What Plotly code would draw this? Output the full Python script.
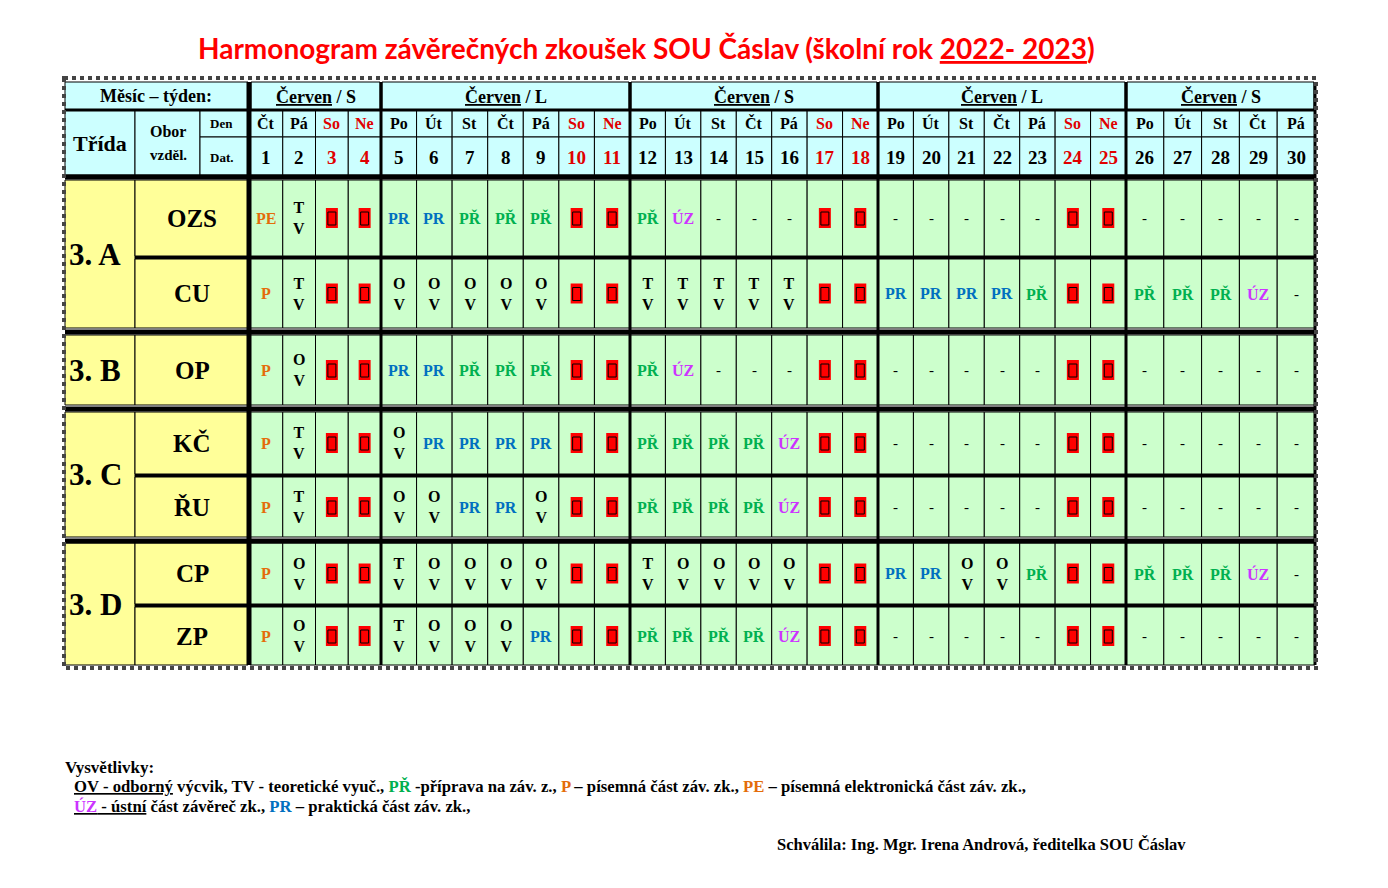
import plotly.graph_objects as go

# --- data ---
title = "Harmonogram závěrečných zkoušek SOU Čáslav (školní rok <u>2022- 2023</u>)"
weeks = ["S", "L", "S", "L", "S"]
week_days = [4, 7, 7, 7, 5]
day_names = ["Čt", "Pá", "So", "Ne"] + ["Po", "Út", "St", "Čt", "Pá", "So", "Ne"] * 3 + ["Po", "Út", "St", "Čt", "Pá"]
dates = list(range(1, 31))
classes = ["3. A", "3. B", "3. C", "3. D"]
class_rows = [["OZS", "CU"], ["OP"], ["KČ", "ŘU"], ["CP", "ZP"]]
W = "W"  # weekend marker
D = "-"
schedule = {
    "OZS": ["PE", "TV", W, W, "PR", "PR", "PŘ", "PŘ", "PŘ", W, W, "PŘ", "ÚZ", D, D, D, W, W, D, D, D, D, D, W, W, D, D, D, D, D],
    "CU": ["P", "TV", W, W, "OV", "OV", "OV", "OV", "OV", W, W, "TV", "TV", "TV", "TV", "TV", W, W, "PR", "PR", "PR", "PR", "PŘ", W, W, "PŘ", "PŘ", "PŘ", "ÚZ", D],
    "OP": ["P", "OV", W, W, "PR", "PR", "PŘ", "PŘ", "PŘ", W, W, "PŘ", "ÚZ", D, D, D, W, W, D, D, D, D, D, W, W, D, D, D, D, D],
    "KČ": ["P", "TV", W, W, "OV", "PR", "PR", "PR", "PR", W, W, "PŘ", "PŘ", "PŘ", "PŘ", "ÚZ", W, W, D, D, D, D, D, W, W, D, D, D, D, D],
    "ŘU": ["P", "TV", W, W, "OV", "OV", "PR", "PR", "OV", W, W, "PŘ", "PŘ", "PŘ", "PŘ", "ÚZ", W, W, D, D, D, D, D, W, W, D, D, D, D, D],
    "CP": ["P", "OV", W, W, "TV", "OV", "OV", "OV", "OV", W, W, "TV", "OV", "OV", "OV", "OV", W, W, "PR", "PR", "OV", "OV", "PŘ", W, W, "PŘ", "PŘ", "PŘ", "ÚZ", D],
    "ZP": ["P", "OV", W, W, "TV", "OV", "OV", "OV", "PR", W, W, "PŘ", "PŘ", "PŘ", "PŘ", "ÚZ", W, W, D, D, D, D, D, W, W, D, D, D, D, D],
}
code_colors = {"PE": "#e46c0a", "P": "#e46c0a", "PR": "#0070c0", "PŘ": "#00b050", "ÚZ": "#cc33ff"}

# --- geometry (page pixels) ---
week_edges = [250, 381, 630, 878, 1126, 1315]
body_rows = {"OZS": (180, 256), "CU": (259, 328), "OP": (335, 405), "KČ": (412, 474),
             "ŘU": (477, 537), "CP": (543, 604), "ZP": (607, 665)}
SERIF = "Liberation Serif"
GREEN, CYAN, YELLOW = "#ccffcc", "#ccffff", "#ffff99"
OFF = 8  # page body margin

x_edges = []
for i, n in enumerate(week_days):
    a, b = week_edges[i], week_edges[i + 1]
    x_edges += [a + (b - a) * k / n for k in range(n)]
x_edges.append(week_edges[-1])

shapes, ann = [], []


def rect(x0, y0, x1, y1, fill, lw=1, lc="black"):
    shapes.append(dict(type="rect", x0=x0, y0=y0, x1=x1, y1=y1, fillcolor=fill,
                       line=dict(color=lc, width=lw), layer="below"))


def text(x, y, s, size=15, color="black", xanchor="center", family=SERIF, bold=True):
    ann.append(dict(x=x, y=y, text=f"<b>{s}</b>" if bold else s, showarrow=False, xanchor=xanchor,
                    yanchor="middle", font=dict(family=family, size=size, color=color)))


# header
rect(65, 82, 248, 110, CYAN)
text(156, 96, "Měsíc – týden:", 18)
for i, w in enumerate(weeks):
    rect(week_edges[i] + 1, 82, week_edges[i + 1] - 1, 110, CYAN)
    text((week_edges[i] + week_edges[i + 1]) / 2, 96, f"<u>Červen</u> / {w}", 18)
rect(65, 110, 135, 175, CYAN)
text(100, 143, "Třída", 22)
rect(135, 110, 200, 175, CYAN)
text(168, 131, "Obor", 16)
text(168, 155, "vzděl.", 15)
rect(200, 110, 248, 137, CYAN)
text(221, 123, "Den", 13)
rect(200, 137, 248, 175, CYAN)
text(221, 157, "Dat.", 13)
for j in range(30):
    x0, x1 = x_edges[j], x_edges[j + 1]
    xc = (x0 + x1) / 2
    col = "#e00000" if day_names[j] in ("So", "Ne") else "black"
    rect(x0, 110, x1, 137, CYAN)
    rect(x0, 137, x1, 175, CYAN)
    text(xc, 123, day_names[j], 16, col)
    text(xc, 157, dates[j], 19, col)

# body
for cls, rows in zip(classes, class_rows):
    top, bot = body_rows[rows[0]][0], body_rows[rows[-1]][1]
    rect(65, top, 135, bot, YELLOW)
    text(67, (top + bot) / 2, cls, 31, xanchor="left")
    for r in rows:
        y0, y1 = body_rows[r]
        yc = (y0 + y1) / 2
        rect(135, y0, 248, y1, YELLOW)
        text(192, yc, r, 25)
        for j, code in enumerate(schedule[r]):
            x0, x1 = x_edges[j], x_edges[j + 1]
            xc = (x0 + x1) / 2
            rect(x0, y0, x1, y1, GREEN)
            if code == W:
                shapes.append(dict(type="rect", x0=xc - 6, x1=xc + 6, y0=yc - 10, y1=yc + 10,
                                   fillcolor="#ff0000", line=dict(width=0)))
                shapes.append(dict(type="rect", x0=xc - 4, x1=xc + 4, y0=yc - 6, y1=yc + 7,
                                   fillcolor="#ff0000", line=dict(color="black", width=1)))
            elif code in ("TV", "OV"):
                text(xc, yc, f"{code[0]}<br>{code[1]}", 16)
            elif code == D:
                text(xc, yc, "-", 15, bold=False)
            else:
                text(xc, yc, code, 16, code_colors.get(code, "black"))

# thick separators
for xv in [248] + week_edges:
    shapes.append(dict(type="line", x0=xv, x1=xv, y0=82, y1=665, line=dict(color="black", width=3)))
for yv in [110, 176, 178, 257.5, 331, 333, 408, 410, 475.5, 540, 542, 605.5]:
    x0 = 135 if yv in (257.5, 475.5, 605.5) else 65
    shapes.append(dict(type="line", x0=x0, x1=1315, y0=yv, y1=yv, line=dict(color="black", width=3)))
shapes.append(dict(type="rect", x0=64, x1=1316, y0=78, y1=668,
                   line=dict(color="#444", width=4, dash="dot")))

# title and notes
text(646, 48, title, 28, "#ff0000", family="Lato")
text(63, 767, "Vysvětlivky:", 17, xanchor="left")
text(72, 786, "<u>OV - odborný</u> výcvik, TV - teoretické vyuč., <span style='color:#00b050'>PŘ</span> -příprava na záv. z., "
     "<span style='color:#e46c0a'>P</span> – písemná část záv. zk., <span style='color:#e46c0a'>PE</span> – písemná elektronická část záv. zk.,", 16.7, xanchor="left")
text(72, 806, "<u><span style='color:#cc33ff'>ÚZ</span> - ústní</u> část závěreč zk., <span style='color:#0070c0'>PR</span> – praktická část záv. zk.,", 16.7, xanchor="left")
text(775, 844, "Schválila: Ing. Mgr. Irena Androvà, ředitelka SOU Čáslav".replace("à", "á"), 16.5, xanchor="left")

fig = go.Figure()
fig.update_layout(width=1388, height=888, margin=dict(l=0, r=0, t=0, b=0),
                  paper_bgcolor="white", plot_bgcolor="white", shapes=shapes, annotations=ann,
                  xaxis=dict(range=[OFF, 1388 + OFF], visible=False, fixedrange=True),
                  yaxis=dict(range=[888 + OFF, OFF], visible=False, fixedrange=True),
                  showlegend=False)
fig.write_html("out.html")
